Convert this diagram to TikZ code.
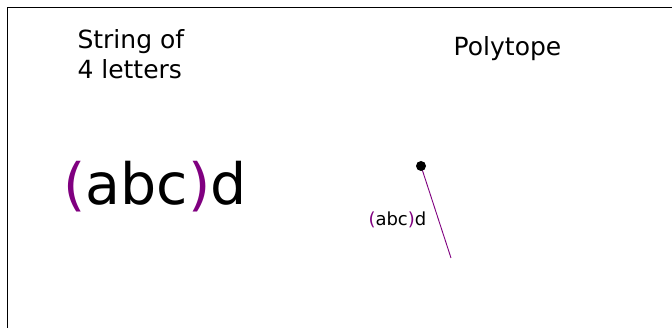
\documentclass[tikz,border=0pt]{standalone}
\usepackage{fontspec}
\setmainfont{DejaVu Sans}
\definecolor{mplpurple}{RGB}{128,0,128}
\begin{document}
\begin{tikzpicture}[x=1pt,y=1pt,
  lbl/.style={inner sep=0pt, outer sep=0pt, text=black},
  frameline/.style={draw=black, line width=1.8pt},
  vertex/.style={circle, fill=black, inner sep=0pt, minimum size=10pt},
  edge/.style={draw=mplpurple, line width=0.9pt}]
\useasboundingbox (0,0) rectangle (672,328);
\clip (0,0) rectangle (672,328);
\fill[white] (0,0) rectangle (672,328);
\draw[frameline] (7.5,-40) rectangle (720,320.5);
\node[lbl, anchor=base west, align=left, font=\fontsize{25}{30}\selectfont] (title) at (77.5,249.5) {String of\\4 letters};
\node[lbl, anchor=base, font=\fontsize{25}{30}\selectfont] (poly) at (507.5,272.5) {Polytope};
\node[lbl, anchor=base west, font=\fontsize{57}{68}\selectfont] (big) at (63.5,123) {\textcolor{mplpurple}{(}abc\textcolor{mplpurple}{)}d};
\coordinate (e) at (451,70);
\draw[edge] (421,162) -- (e);
\node[vertex] (v) at (421,162) {};
\node[lbl, anchor=base west, font=\fontsize{18}{22}\selectfont] (small) at (368.5,102) {\textcolor{mplpurple}{(}abc\textcolor{mplpurple}{)}d};
\end{tikzpicture}
\end{document}
